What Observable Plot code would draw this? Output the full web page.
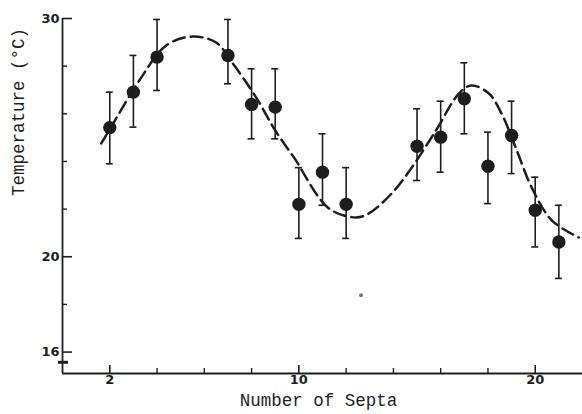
<!DOCTYPE html>
<html><head><meta charset="utf-8">
<script src="https://cdn.jsdelivr.net/npm/d3@7"></script>
<script src="https://cdn.jsdelivr.net/npm/@observablehq/plot@0.6"></script>
<style>html,body{margin:0;padding:0;background:#fff}#chart svg{display:block}</style>
</head><body><div id="chart"></div>
<script>
const septa     = [2, 3, 4, 7, 8, 9, 10, 11, 12, 15, 16, 17, 18, 19, 20, 21];
const tempMean  = [25.42, 26.91, 28.38, 28.45, 26.39, 26.28, 22.2, 23.55, 22.2, 24.64, 25.02, 26.63, 23.8, 25.09, 21.95, 20.62];
const tempLow   = [23.9, 25.44, 26.98, 27.26, 24.95, 24.95, 20.77, 22.16, 20.77, 23.2, 23.55, 25.16, 22.23, 23.49, 20.41, 19.09];
const tempHigh  = [26.91, 28.45, 29.96, 29.96, 27.89, 27.89, 23.74, 25.16, 23.74, 26.21, 26.53, 28.14, 25.23, 26.53, 23.34, 22.16];

const fitSepta  = [1.64, 2.0, 3.25, 4.39, 5.49, 6.5, 7.18, 8.19, 9.0, 9.79, 11.27, 12.41, 12.96, 13.93, 14.78, 15.8, 16.77, 17.3, 18.04, 18.58, 19.17, 19.85, 20.7, 21.84];
const fitTemp   = [24.76, 25.35, 27.4, 28.87, 29.24, 28.99, 28.15, 26.69, 25.3, 24.17, 22.03, 21.65, 21.82, 22.66, 23.75, 25.3, 26.85, 27.19, 26.85, 26.0, 24.59, 22.91, 21.53, 20.81];

const strayMarkSepta = [12.63];
const strayMarkTemp  = [18.38];

const xMajorTicks = [2, 10, 20];
const xMinorTicks = [4, 6, 8, 12, 14, 16, 18];
const yMajorTicks = [16, 20, 30];
const yMinorTicks = [18, 22, 24, 26, 28];
const axisBreak   = [15.57];
const xDomain = [0, 22];
const yDomain = [15.1, 30];

const obs = septa.map((s, i) => ({s, t: tempMean[i], lo: tempLow[i], hi: tempHigh[i]}));
const fit = fitSepta.map((s, i) => ({s, t: fitTemp[i]}));
const stray = strayMarkSepta.map((s, i) => ({s, t: strayMarkTemp[i]}));

const ink = "#1e1e1e";
const tickFont = "DejaVu Sans";
const labelFont = "Liberation Mono";

const chart = Plot.plot({
  width: 582,
  height: 414,
  marginLeft: 62,
  marginRight: 0,
  marginTop: 18,
  marginBottom: 41,
  x: {domain: xDomain, axis: null},
  y: {domain: yDomain, axis: null},
  marks: [
    Plot.ruleY([yDomain[0]], {stroke: ink, strokeWidth: 1.8}),
    Plot.ruleX([xDomain[0]], {stroke: ink, strokeWidth: 1.8}),
    Plot.ruleX(xMajorTicks, {x: d => d, y1: yDomain[0], y2: yDomain[0], insetBottom: 8, stroke: ink, strokeWidth: 1.6}),
    Plot.ruleX(xMinorTicks, {x: d => d, y1: yDomain[0], y2: yDomain[0], insetBottom: 5, stroke: ink, strokeWidth: 1.4}),
    Plot.ruleY(yMajorTicks, {y: d => d, x1: xDomain[0], x2: xDomain[0], insetRight: -10, stroke: ink, strokeWidth: 1.6}),
    Plot.ruleY(yMinorTicks, {y: d => d, x1: xDomain[0], x2: xDomain[0], insetRight: -5, stroke: ink, strokeWidth: 1.4}),
    Plot.ruleY(axisBreak, {y: d => d, x1: xDomain[0], x2: xDomain[0], insetLeft: -4, insetRight: -6, stroke: ink, strokeWidth: 3}),
    Plot.text(xMajorTicks, {x: d => d, frameAnchor: "bottom", dy: 10, text: d => String(d), fontFamily: tickFont, fontWeight: "bold", fontSize: 13, fill: ink}),
    Plot.text(yMajorTicks, {y: d => d, frameAnchor: "left", dx: -3, textAnchor: "end", text: d => String(d), fontFamily: tickFont, fontWeight: "bold", fontSize: 13, fill: ink}),
    Plot.text(["Number of Septa"], {frameAnchor: "bottom", dy: 32, dx: -4, fontFamily: labelFont, fontSize: 17.5, fill: ink}),
    Plot.text(["Temperature (°C)"], {frameAnchor: "left", dx: -44, rotate: -90, fontFamily: labelFont, fontSize: 17.5, fill: ink}),
    Plot.line(fit, {x: "s", y: "t", curve: "catmull-rom", stroke: ink, strokeWidth: 2.5, strokeDasharray: "12,6"}),
    Plot.ruleX(obs, {x: "s", y1: "lo", y2: "hi", stroke: ink, strokeWidth: 1.6}),
    Plot.ruleY(obs, {y: "hi", x1: "s", x2: "s", insetLeft: -3.5, insetRight: -3.5, stroke: ink, strokeWidth: 1.6}),
    Plot.ruleY(obs, {y: "lo", x1: "s", x2: "s", insetLeft: -3.5, insetRight: -3.5, stroke: ink, strokeWidth: 1.6}),
    Plot.dot(obs, {x: "s", y: "t", r: 6.7, fill: ink, stroke: "none"}),
    Plot.dot(stray, {x: "s", y: "t", r: 2, fill: "#777", stroke: "none"})
  ]
});
document.getElementById("chart").append(chart);
</script>
</body></html>
